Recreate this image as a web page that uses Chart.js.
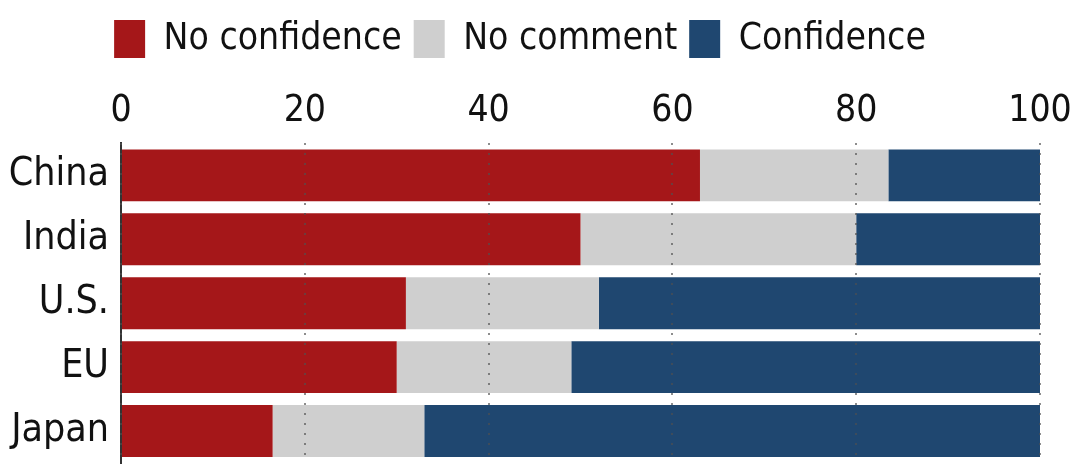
<!DOCTYPE html>
<html>
<head>
<meta charset="utf-8">
<script src="https://cdn.jsdelivr.net/npm/chart.js@4/dist/chart.umd.min.js"></script>
<style>
  html, body { margin: 0; padding: 0; background: #fff; }
  #wrap { width: 1071px; height: 466px; }
</style>
</head>
<body>
<div id="wrap"><canvas id="chart"></canvas></div>
<script>
// survey data (percent)
const countries = ["China", "India", "U.S.", "EU", "Japan"];
const noConfidence = [63, 50, 31, 30, 16.5];
const noComment = [20.5, 30, 21, 19, 16.5];
const confidence = [16.5, 20, 48, 51, 67];
const xTicks = [0, 20, 40, 60, 80, 100];

const FONT = '"DejaVu Sans Condensed", "Liberation Sans Narrow", sans-serif';

// a bit more room under the legend
const legendGap = {
  id: "legendGap",
  beforeInit(chart) {
    const fit = chart.legend.fit;
    chart.legend.fit = function () {
      fit.call(this);
      this.height += 11;
    };
  }
};

const ctx = document.getElementById("chart").getContext("2d");
new Chart(ctx, {
  type: "bar",
  data: {
    labels: countries,
    datasets: [
      { label: "No confidence", data: noConfidence, backgroundColor: "#A51719" },
      { label: "No comment", data: noComment, backgroundColor: "#CFCFCF" },
      { label: "Confidence", data: confidence, backgroundColor: "#1F4770" }
    ]
  },
  plugins: [legendGap],
  options: {
    indexAxis: "y",
    responsive: true,
    maintainAspectRatio: false,
    animation: false,
    layout: { padding: { top: 8, right: 31, left: 0, bottom: 3 } },
    datasets: {
      bar: { barPercentage: 0.8125, categoryPercentage: 1, borderWidth: 0 }
    },
    plugins: {
      tooltip: { enabled: false },
      legend: {
        position: "top",
        labels: {
          color: "#111",
          font: { family: FONT, size: 37 },
          boxWidth: 31,
          boxHeight: 38,
          padding: 12
        }
      }
    },
    scales: {
      x: {
        position: "top",
        stacked: true,
        min: 0,
        max: 100,
        afterBuildTicks: (axis) => { axis.ticks = xTicks.map((v) => ({ value: v })); },
        afterFit: (scale) => { scale.paddingRight = 0; },
        ticks: {
          color: "#111",
          font: { family: FONT, size: 37 },
          padding: 10
        },
        grid: {
          z: 1,
          color: "rgba(80,80,80,0.65)",
          lineWidth: 2,
          drawTicks: false
        },
        border: { display: false, dash: [2, 8] }
      },
      y: {
        stacked: true,
        afterFit: (scale) => {
          scale.width = 121;
          scale.paddingTop = 0;
          scale.paddingBottom = 0;
        },
        ticks: {
          color: "#111",
          autoSkip: false,
          font: { family: FONT, size: 39 },
          padding: 12
        },
        grid: { display: false, drawTicks: false },
        border: { display: true, color: "#333", width: 2 }
      }
    }
  }
});
</script>
</body>
</html>
